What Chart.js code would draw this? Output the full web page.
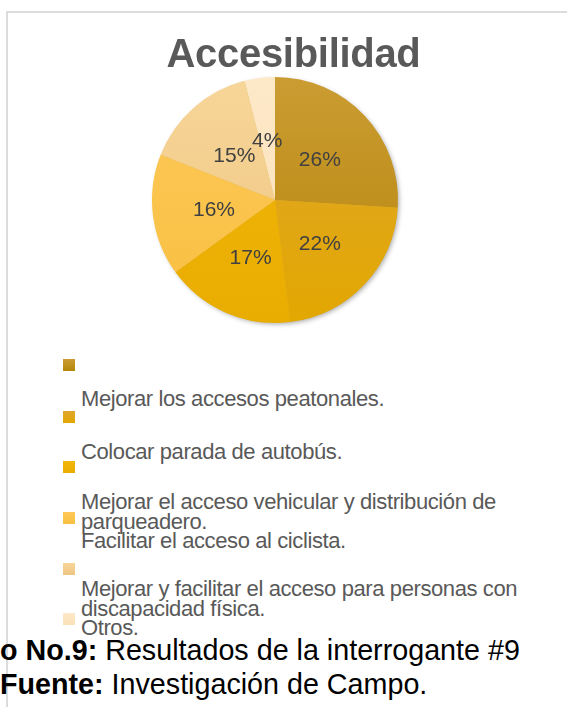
<!DOCTYPE html>
<html>
<head>
<meta charset="utf-8">
<script src="https://cdn.jsdelivr.net/npm/chart.js@4.4.1/dist/chart.umd.min.js"></script>
<style>
  html, body { margin: 0; padding: 0; background: #fff; width: 567px; height: 707px; overflow: hidden; }
  body { position: relative; font-family: "Liberation Sans", Arial, sans-serif; }
  #frame { position: absolute; left: 6px; top: 11px; width: 640px; height: 760px;
           border-left: 2px solid #dcdcdc; border-top: 2px solid #dcdcdc; }
  #title { position: absolute; left: 0; top: 33px; width: 587px; text-align: center;
           font-weight: bold; font-size: 40px; line-height: 40px; color: #595959; letter-spacing: -0.3px; }
  #chartBox { position: absolute; left: 0; top: 0; width: 567px; height: 340px; }
  .mk { position: absolute; left: 63px; width: 12px; height: 12px; }
  .tx { position: absolute; left: 81px; width: 486px; font-size: 22px; line-height: 20px;
        letter-spacing: -0.4px; color: #595959; }
  #caption { position: absolute; left: 0; top: 633px; font-size: 28.7px; line-height: 34px; color: #000; white-space: nowrap; }
</style>
</head>
<body>
<div id="frame"></div>
<div id="chartBox"><canvas id="pie"></canvas></div>
<div id="title">Accesibilidad</div>
<div id="legend"></div>
<div id="caption"><b>o No.9:</b> Resultados de la interrogante #9<br><b>Fuente:</b> Investigación de Campo.</div>

<script>
// answers to question 9
const labels = [
  "Mejorar los accesos peatonales.",
  "Colocar parada de autobús.",
  "Mejorar el acceso vehicular y distribución de parqueadero.",
  "Facilitar el acceso al ciclista.",
  "Mejorar y facilitar el acceso para personas con discapacidad física.",
  "Otros."
];
const percents = [26, 22, 17, 16, 15, 4];
// top / bottom shade of each slice
const colorsTop = ["#cb9c32", "#dfa62e", "#f2b70a", "#fdc85a", "#f7d699", "#fde8c8"];
const colorsBottom = ["#b5860a", "#e2a700", "#e8ad00", "#f8c040", "#eec582", "#fbe0b6"];

// the legend in the original is shifted: markers and texts don't line up
const markerTop = [359, 411, 461, 512, 563, 613];
const textTop = [389, 442, 492, 531, 579, 618];

const legend = document.getElementById('legend');
labels.forEach((lbl, i) => {
  const mk = document.createElement('div');
  mk.className = 'mk';
  mk.style.top = markerTop[i] + 'px';
  mk.style.background = 'linear-gradient(' + colorsTop[i] + ',' + colorsBottom[i] + ')';
  legend.appendChild(mk);
  const tx = document.createElement('div');
  tx.className = 'tx';
  tx.style.top = textTop[i] + 'px';
  tx.textContent = lbl;
  legend.appendChild(tx);
});

function sliceFill(ctx) {
  const chart = ctx.chart;
  const area = chart.chartArea;
  if (!area) return colorsTop[ctx.dataIndex];
  const g = chart.ctx.createLinearGradient(0, area.top, 0, area.bottom);
  g.addColorStop(0, colorsTop[ctx.dataIndex]);
  g.addColorStop(1, colorsBottom[ctx.dataIndex]);
  return g;
}

// soft shadow under the pie
const pieShadow = {
  id: 'pieShadow',
  beforeDatasetsDraw(chart) {
    const arc = chart.getDatasetMeta(0).data[0];
    if (!arc) return;
    const ctx = chart.ctx;
    ctx.save();
    ctx.shadowColor = 'rgba(0,0,0,0.35)';
    ctx.shadowBlur = 5;
    ctx.shadowOffsetX = 2;
    ctx.shadowOffsetY = 2;
    ctx.beginPath();
    ctx.arc(arc.x, arc.y, arc.outerRadius - 1, 0, Math.PI * 2);
    ctx.fillStyle = '#d9a530';
    ctx.fill();
    ctx.restore();
  }
};

// percentage labels in the middle of each slice
const sliceLabels = {
  id: 'sliceLabels',
  afterDatasetsDraw(chart) {
    const ctx = chart.ctx;
    const meta = chart.getDatasetMeta(0);
    ctx.save();
    ctx.font = '21px "Liberation Sans", Arial, sans-serif';
    ctx.fillStyle = '#404040';
    ctx.textAlign = 'center';
    ctx.textBaseline = 'middle';
    meta.data.forEach((arc, i) => {
      const p = arc.tooltipPosition();
      ctx.fillText(percents[i] + '%', p.x, p.y + 2);
    });
    ctx.restore();
  }
};

new Chart(document.getElementById('pie'), {
  type: 'pie',
  data: {
    labels: labels,
    datasets: [{
      data: percents,
      backgroundColor: sliceFill,
      borderWidth: 0,
      hoverOffset: 0
    }]
  },
  options: {
    responsive: true,
    maintainAspectRatio: false,
    animation: false,
    layout: { padding: { top: 77, left: 152, right: 169, bottom: 17 } },
    plugins: {
      legend: { display: false },
      tooltip: { enabled: false },
      title: { display: false }
    }
  },
  plugins: [pieShadow, sliceLabels]
});
</script>
</body>
</html>
